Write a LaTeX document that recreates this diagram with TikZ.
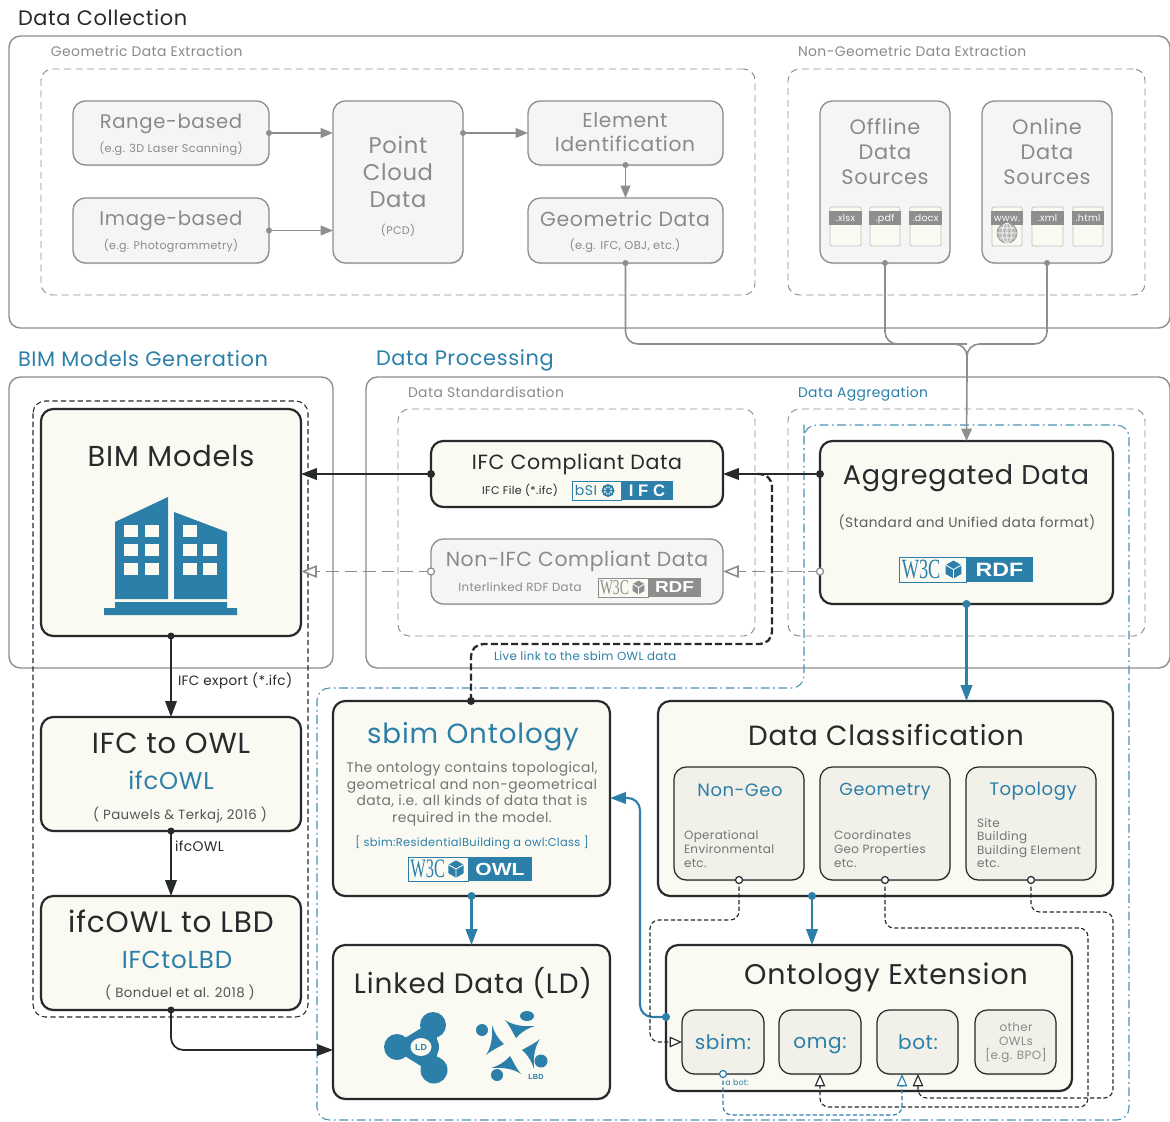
\documentclass[tikz,border=0pt]{standalone}
\usepackage{fontspec}
\setmainfont{Poppins}[LetterSpace=3]
\usetikzlibrary{arrows.meta,shadows,calc}
\definecolor{bl}{HTML}{2B7FA8}
\definecolor{dk}{HTML}{262A2A}
\definecolor{gy}{HTML}{8E8E8E}
\definecolor{gt}{HTML}{8A8A8A}
\definecolor{cr}{HTML}{FAFAF2}
\definecolor{cs}{HTML}{F1F1E9}
\definecolor{lg}{HTML}{F5F5F5}
\newcommand{\fz}[1]{\fontsize{#1pt}{#1pt}\selectfont\rule[-.2em]{0pt}{1.12em}}
\newcommand{\fl}[2]{\fontsize{#1pt}{#2pt}\selectfont}
\tikzset{
 x=0.02cm,y=-0.02cm,
 area/.style={draw=#1,line width=.8pt,rounded corners=6.5pt,inner sep=0,outer sep=0},
 area/.default=gy,
 dasharea/.style={draw=gy,line width=.55pt,dash pattern=on 4pt off 2.6pt,rounded corners=6.5pt,inner sep=0,outer sep=0},
 darkbox/.style={draw=dk,fill=cr,line width=1.25pt,rounded corners=7pt,inner sep=0,outer sep=0,drop shadow={shadow xshift=.4pt,shadow yshift=-.6pt,opacity=.22,fill=black}},
 subbox/.style={draw=dk,fill=cs,line width=.7pt,rounded corners=7pt,inner sep=0,outer sep=0,drop shadow={shadow xshift=.4pt,shadow yshift=-.6pt,opacity=.18,fill=black}},
 greybox/.style={draw=gy,fill=lg,line width=.75pt,rounded corners=7pt,inner sep=0,outer sep=0,drop shadow={shadow xshift=.4pt,shadow yshift=-.6pt,opacity=.15,fill=black}},
 txt/.style={inner sep=0,outer sep=0,align=center,text=dk},
 gtxt/.style={txt,text=gt},
 btxt/.style={txt,text=bl},
 solidtip/.style={-{Triangle[length=9pt,width=6.5pt]}},
 opentip/.style={-{Triangle[open,length=7pt,width=6pt,fill=white]}},
 biggopen/.style={-{Triangle[open,length=9pt,width=7pt,fill=white]}},
 conn/.style={draw=dk,line width=1pt},
 gconn/.style={draw=gy,line width=.9pt},
 bconn/.style={draw=bl,line width=1.2pt},
 thinres/.style={line width=.65pt,dash pattern=on 2.4pt off 1.4pt,rounded corners=5pt},
}
\newcommand{\bx}[6]{\node[#1,minimum width=#4*0.02cm-#2*0.02cm,minimum height=#5*0.02cm-#3*0.02cm] (#6) at ({(#2+#4)/2},{(#3+#5)/2}) {};}
\newcommand{\dotat}[3][4]{\fill[#2] #3 circle[radius=#1];}
\newcommand{\ringat}[2]{\filldraw[draw=#1,fill=white,line width=.7pt] #2 circle[radius=3.5];}
\newcommand{\cube}[4]{%
 \fill[#4] ({#1},{#2-#3}) -- ({#1+.87*#3},{#2-.5*#3}) -- ({#1+.87*#3},{#2+.5*#3}) -- ({#1},{#2+#3}) -- ({#1-.87*#3},{#2+.5*#3}) -- ({#1-.87*#3},{#2-.5*#3}) -- cycle;
 \draw[white,line width=.5pt] ({#1},{#2}) -- ({#1},{#2+#3}) ({#1},{#2}) -- ({#1+.87*#3},{#2-.5*#3}) ({#1},{#2}) -- ({#1-.87*#3},{#2-.5*#3});}
\newcommand{\wlabel}{}
\newcommand{\wbadge}[8]{%
 \fill[#7] (#4,#3) rectangle (#5,#6);
 \filldraw[draw=#7,fill=cr,line width=.5pt] (#2,#3) rectangle (#4,#6);
 \pgfmathsetlengthmacro{\wwd}{(#4-#2)*.58*0.5669pt}%
 \pgfmathsetlengthmacro{\whd}{(#6-#3)*.74*0.5669pt}%
 \node[txt,text=#7] (#1w) at ({#2+(#4-#2)*.33},{(#3+#6)/2}) {\resizebox{\wwd}{\whd}{\fontspec{Liberation Serif}W3C}};
 \cube{#4-(#6-#3)*.5}{(#3+#6)/2}{(#6-#3)*.36}{#7}
 \node[txt,text=white] (#1l) at ({(#4+#5)/2},{(#3+#6)/2}) {\fontspec{Liberation Sans}\bfseries\fontsize{#8pt}{#8pt}\selectfont\scalebox{1.2}[1]{\wlabel}};}
\newcommand{\filedoc}[4]{%
 \filldraw[draw=gy!55,fill=cr,line width=.5pt,rounded corners=.7pt] (#2,207) rectangle (#3,246);
 \fill[gy] ({#2-1},211) rectangle ({#3+1},225);
 \node[txt,text=white] (#1) at ({(#2+#3)/2},218) {\fz{5.4}#4};}
\begin{document}
\begin{tikzpicture}
\useasboundingbox (0,0) rectangle (1170,1122);
\fill[white] (0,0) rectangle (1170,1122);
%--- section frames
\bx{area}{9}{36}{1170}{328}{fcoll}
\bx{area}{9}{377}{333}{668}{fbim}
\bx{area}{366}{377}{1170}{668}{fproc}
\bx{dasharea}{41}{69}{755}{295}{dgeo}
\bx{dasharea}{788}{69}{1145}{295}{dnon}
\bx{dasharea}{398}{409}{755}{636}{dstd}
\bx{dasharea}{788}{409}{1145}{636}{dagg}
\draw[dk,line width=.6pt,dash pattern=on 3pt off 1.8pt,rounded corners=7pt] (33,401) rectangle (308,1017);
\draw[bl!85,line width=.6pt,dash pattern=on 5pt off 2pt on 1pt off 2pt,rounded corners=7pt] (804,437) -- (804,425) -- (1129,425) -- (1129,1120) -- (317,1120) -- (317,688) -- (804,688) -- cycle;
%--- titles
\node[txt,anchor=west] (tcoll) at (18,18) {\fz{11.9}Data Collection};
\node[btxt,anchor=west] (tbim) at (18,359) {\fz{11.9}BIM Models Generation};
\node[btxt,anchor=west] (tproc) at (376,359) {\fz{11.9}Data Processing};
\node[gtxt,anchor=west] (lgeo) at (51,52) {\fz{7.9}Geometric Data Extraction};
\node[gtxt,anchor=west] (lnon) at (798,52) {\fz{7.9}Non-Geometric Data Extraction};
\node[gtxt,anchor=west] (lstd) at (408,393) {\fz{7.9}Data Standardisation};
\node[btxt,anchor=west] (lagg) at (798,393) {\fz{7.9}Data Aggregation};
%--- grey boxes
\bx{greybox}{73}{101}{269}{165}{rb}
\bx{greybox}{73}{198}{269}{263}{ib}
\bx{greybox}{333}{101}{463}{263}{pcd}
\bx{greybox}{528}{101}{723}{165}{el}
\bx{greybox}{528}{198}{723}{263}{geo}
\bx{greybox}{820}{101}{950}{263}{off}
\bx{greybox}{982}{101}{1112}{263}{onl}
\bx{greybox}{431}{539}{723}{604}{non}
\node[gtxt] (t1) at (171,122) {\fz{11.2}Range-based};
\node[gtxt] (t2) at (171,149) {\fz{6.4}(e.g. 3D Laser Scanning)};
\node[gtxt] (t3) at (171,219) {\fz{11.2}Image-based};
\node[gtxt] (t4) at (171,246) {\fz{6.3}(e.g. Photogrammetry)};
\node[gtxt,font=\fl{12.9}{15.3}] (t5) at (398,172) {Point\\Cloud\\Data};
\node[gtxt] (t6) at (398,230) {\fz{6.3}(PCD)};
\node[gtxt,font=\fl{11.5}{13.7}] (t7) at (625,132) {Element\\Identification};
\node[gtxt] (t8) at (625,219) {\fz{11.6}Geometric Data};
\node[gtxt] (t9) at (625,246) {\fz{6.5}(e.g. IFC, OBJ, etc.)};
\node[gtxt,font=\fl{11.9}{14.2}] (t10) at (885,152) {Offline\\Data\\Sources};
\node[gtxt,font=\fl{11.9}{14.2}] (t11) at (1047,152) {Online\\Data\\Sources};
\filedoc{fa}{830}{861}{.xlsx}
\filedoc{fb}{870}{900}{.pdf}
\filedoc{fc}{910}{941}{.docx}
\filedoc{fd}{992}{1022}{www.}
\filedoc{fe}{1032}{1063}{.xml}
\filedoc{ff}{1073}{1103}{.html}
\filldraw[draw=gy,fill=gy!60,line width=.4pt] (1007,233) circle[radius=10];
\draw[white,line width=.35pt] (1007,223) -- (1007,243) (997,233) -- (1017,233) (999,228) -- (1015,228) (999,238) -- (1015,238) (1007,233) ellipse[x radius=5,y radius=10];
\node[gtxt] (t12) at (577,560) {\fz{11.6}Non-IFC Compliant Data};
\node[gtxt] (t13) at (520,587) {\fz{6.7}Interlinked RDF Data};
%--- dark boxes
\bx{darkbox}{41}{409}{301}{636}{bim}
\bx{darkbox}{41}{717}{301}{831}{i2o}
\bx{darkbox}{41}{896}{301}{1010}{o2l}
\bx{darkbox}{431}{441}{723}{507}{ifc}
\bx{darkbox}{820}{441}{1113}{604}{agg}
\bx{darkbox}{333}{701}{610}{896}{sbimo}
\bx{darkbox}{333}{945}{610}{1099}{ld}
\bx{darkbox}{658}{701}{1113}{896}{dc}
\bx{darkbox}{666}{945}{1072}{1091}{oe}
\bx{subbox}{674}{767}{804}{880}{ng}
\bx{subbox}{820}{767}{950}{880}{gm}
\bx{subbox}{966}{767}{1096}{880}{tp}
\bx{subbox}{682}{1010}{764}{1074}{xs}
\bx{subbox}{779}{1010}{861}{1074}{xo}
\bx{subbox}{877}{1010}{958}{1074}{xb}
\bx{subbox}{975}{1010}{1056}{1074}{xt}
%--- dark texts
\node[txt] (a1) at (171,456) {\fz{16.4}BIM Models};
\node[txt] (a2) at (577,463) {\fz{11.7}IFC Compliant Data};
\node[txt] (a3) at (520,490) {\fz{6.3}IFC File (*.ifc)};
\node[txt] (a4) at (966,476) {\fz{15.4}Aggregated Data};
\node[txt,text=dk!75] (a5) at (967,522) {\fz{7.8}(Standard and Unified data format)};
\node[txt] (a6) at (171,743) {\fz{16.5}IFC to OWL};
\node[btxt] (a7) at (171,781) {\fz{13.8}ifcOWL};
\node[txt,text=dk!80] (a8) at (180,815) {\fz{7.6}( Pauwels \& Terkaj, 2016 )};
\node[txt] (a9) at (171,922) {\fz{16.8}ifcOWL to LBD};
\node[btxt] (a10) at (177,960) {\fz{14}IFCtoLBD};
\node[txt,text=dk!80] (a11) at (180,993) {\fz{7.6}( Bonduel et al. 2018 )};
\node[btxt] (a12) at (473,734) {\fz{15.8}sbim Ontology};
\node[gtxt,text=dk!65,font=\fl{7.9}{9.6}] (a13) at (472,794) {The ontology contains topological,\\geometrical and non-geometrical\\data, i.e. all kinds of data that is\\required in the model.};
\node[btxt] (a14) at (472,843) {\fz{6.5}[ sbim:ResidentialBuilding a owl:Class ]};
\node[txt] (a15) at (473,983) {\fz{15.9}Linked Data (LD)};
\node[txt] (a16) at (886,735) {\fz{15.8}Data Classification};
\node[btxt] (a17) at (740,790) {\fz{10.2}Non-Geo};
\node[btxt] (a18) at (885,790) {\fz{10}Geometry};
\node[btxt] (a19) at (1033,790) {\fz{10.3}Topology};
\node[gtxt,text=dk!65,anchor=west,align=left,font=\fl{6.8}{7.7}] (a20) at (684,849) {Operational\\Environmental\\etc.};
\node[gtxt,text=dk!65,anchor=west,align=left,font=\fl{6.8}{7.7}] (a21) at (834,849) {Coordinates\\Geo Properties\\etc.};
\node[gtxt,text=dk!65,anchor=west,align=left,font=\fl{6.8}{7.7}] (a22) at (977,843) {Site\\Building\\Building Element\\etc.};
\node[txt] (a23) at (886,975) {\fz{16.2}Ontology Extension};
\node[btxt] (a24) at (723,1042) {\fz{11.4}sbim:};
\node[btxt] (a25) at (820,1042) {\fz{11.4}omg:};
\node[btxt] (a26) at (918,1042) {\fz{11.4}bot:};
\node[gtxt,font=\fl{6.8}{8}] (a27) at (1016,1043) {other\\OWLs\\{[e.g. BPO]}};
\node[btxt] (a28) at (737,1083) {\fz{4.5}a bot:};
\node[btxt,anchor=west] (a29) at (494,656) {\fz{6.7}Live link to the sbim OWL data};
\node[txt,anchor=west] (a30) at (178,681) {\fz{7.7}IFC export (*.ifc)};
\node[txt,anchor=west] (a31) at (175,846) {\fz{7.9}ifcOWL};
%--- badges
\renewcommand{\wlabel}{RDF}\wbadge{b1}{899}{557}{966}{1033}{582}{bl}{11}
\renewcommand{\wlabel}{RDF}\wbadge{b2}{598}{578}{648}{701}{597}{gy}{9}
\renewcommand{\wlabel}{OWL}\wbadge{b3}{408}{857}{468}{532}{881}{bl}{10}
\fill[bl] (621,481) rectangle (673,500);
\filldraw[draw=bl,fill=cr,line width=.5pt] (572,481) rectangle (621,500);
\node[btxt] (b4) at (586,490.5) {\fz{8}bSI};
\draw[bl,line width=1pt] (608,490.5) circle[radius=5.5];
\draw[bl,line width=.6pt] (602,490.5) -- (614,490.5) (608,484) -- (608,497) (604,486) -- (612,495) (612,486) -- (604,495);
\node[txt,text=white] (b5) at (647,490.5) {\fontspec{Liberation Sans}\bfseries\fontsize{9.5pt}{10pt}\selectfont I F C};
%--- building
\fill[bl] (115,522) -- (168,497) -- (168,599) -- (115,599) -- cycle;
\fill[bl] (174,512) -- (227,532) -- (227,599) -- (174,599) -- cycle;
\fill[bl] (115,602) -- (227,602) -- (227,608) -- (237,608) -- (237,615) -- (104,615) -- (104,608) -- (115,608) -- cycle;
\foreach \wx/\wy in {124/525,145/525,124/544,145/544,124/563,145/563,183/525,183/544,203/544,183/563,203/563}
  \fill[cr] (\wx,\wy) rectangle ({\wx+14},{\wy+12});
%--- LD icon
\fill[bl,line join=round,draw=bl,line width=4pt] (433,1025) -- (397,1047) -- (434,1070) -- cycle;
\fill[bl] (433,1025) circle[radius=13] (397,1047) circle[radius=13] (434,1070) circle[radius=13.5] (424,1047) circle[radius=15];
\fill[cr] (421,1047) ellipse[x radius=10.5,y radius=9];
\node[btxt] (ldt) at (421,1047.5) {\fontspec{Liberation Sans}\bfseries\fontsize{5pt}{5pt}\selectfont LD};
%--- LBD icon
\foreach \p/\q in {1/0,0/1,-1/0,0/-1}{
 \fill[bl] ({513+\p*(-8)-\q*(-27)},{1047+\q*(-8)+\p*(-27)})
  .. controls ({513+\p*(-1)-\q*(-22)},{1047+\q*(-1)+\p*(-22)}) and ({513+\p*(10)-\q*(-20)},{1047+\q*(10)+\p*(-20)}) .. ({513+\p*(22)-\q*(-21)},{1047+\q*(22)+\p*(-21)})
  .. controls ({513+\p*(15)-\q*(-19)},{1047+\q*(15)+\p*(-19)}) and ({513+\p*(8)-\q*(-15)},{1047+\q*(8)+\p*(-15)}) .. ({513+\p*(3)-\q*(-9)},{1047+\q*(3)+\p*(-9)})
  .. controls ({513+\p*(0)-\q*(-14)},{1047+\q*(0)+\p*(-14)}) and ({513+\p*(-3)-\q*(-21)},{1047+\q*(-3)+\p*(-21)}) .. cycle;
}
\fill[bl] (482,1030) circle[radius=6] (527,1016) ellipse[x radius=7,y radius=5] (541,1061) circle[radius=6.5] (497,1075) circle[radius=6];
\node[btxt] (lbdt) at (536,1077) {\fontspec{Liberation Sans}\bfseries\fontsize{4.2pt}{5pt}\selectfont LBD};
%--- connectors: data collection
\draw[gconn,-{Triangle[length=7pt,width=5.5pt]}] (rb.east) -- (rb.east -| pcd.west);
\draw[gconn,-{Triangle[length=7pt,width=5.5pt]}] (ib.east) -- (ib.east -| pcd.west);
\draw[gconn,-{Triangle[length=7pt,width=5.5pt]}] (el.west -| pcd.east) -- (el.west);
\draw[gconn,-{Triangle[length=7pt,width=5.5pt]}] (el.south) -- (geo.north);
\coordinate (m) at (967,344);
\draw[gconn,rounded corners=7pt] (geo.south) -- (geo.south |- m) -- (m) -- (967,380);
\draw[gconn,rounded corners=7pt] (off.south) -- (off.south |- m) -- (m);
\draw[gconn,rounded corners=7pt] (onl.south) -- (onl.south |- m) -- (m) -- (967,380);
\draw[gconn,-{Triangle[length=7pt,width=6pt]}] (967,375) -- (agg.north);
\foreach \n in {rb.east,ib.east,el.south,geo.south,off.south,onl.south}{\dotat[3]{gy}{(\n)}}
\dotat[3]{gy}{(el.west -| pcd.east)}
%--- connectors: processing
\draw[conn,line width=1.2pt,solidtip] (ifc.east -| agg.west) -- (ifc.east);
\draw[conn,line width=1.2pt,solidtip] (ifc.west) -- (ifc.west -| bim.east);
\dotat{dk}{(ifc.east -| agg.west)}
\dotat{dk}{(ifc.west)}
\draw[gconn,dash pattern=on 7pt off 3.5pt,biggopen] (non.east -| agg.west) -- (non.east);
\draw[gconn,dash pattern=on 7pt off 3.5pt,biggopen] (non.west) -- (non.west -| bim.east);
\ringat{gy}{(non.east -| agg.west)}
\ringat{gy}{(non.west)}
\draw[dk,line width=1.3pt,dash pattern=on 4pt off 1.8pt,rounded corners=7pt] (757,474) -- (772,474) -- (772,644) -- (471,644) -- (471,701);
\dotat{dk}{(471,701)}
%--- connectors: left column
\draw[conn,solidtip] (bim.south) -- (i2o.north);
\draw[conn,solidtip] (i2o.south) -- (o2l.north);
\draw[conn,rounded corners=7pt,solidtip] (o2l.south) |- (ld.west |- 0,1050);
\dotat[3.5]{dk}{(bim.south)}
\dotat[3.5]{dk}{(i2o.south)}
\dotat[3.5]{dk}{(o2l.south)}
%--- blue connectors
\draw[bconn,solidtip] (agg.south) -- (agg.south |- dc.north);
\dotat{bl}{(agg.south)}
\draw[bconn,solidtip] (sbimo.south) -- (ld.north);
\dotat{bl}{(sbimo.south)}
\draw[bconn,solidtip] (812,896) -- (812,945);
\dotat{bl}{(812,896)}
\draw[bconn,rounded corners=7pt,solidtip] (oe.west |- 0,1017) -- (640,1017) -- (640,798) -- (sbimo.east |- 0,798);
\dotat{bl}{(oe.west |- 0,1017)}
%--- ontology links
\draw[dk,thinres,opentip] (739,880) -- (739,920) -- (650,920) -- (650,1042) -- (xs.west |- 0,1042);
\draw[dk,thinres,opentip] (885,880) -- (885,928) -- (1088,928) -- (1088,1107) -- (820,1107) -- (xo.south);
\draw[dk,thinres,opentip] (1031,880) -- (1031,912) -- (1113,912) -- (1113,1098) -- (918,1098) -- (918,1074);
\draw[bl,thinres,opentip] (723,1074) -- (723,1115) -- (902,1115) -- (902,1074);
\ringat{dk}{(739,880)}
\ringat{dk}{(885,880)}
\ringat{dk}{(1031,880)}
\ringat{bl}{(723,1074)}
\end{tikzpicture}
\end{document}
